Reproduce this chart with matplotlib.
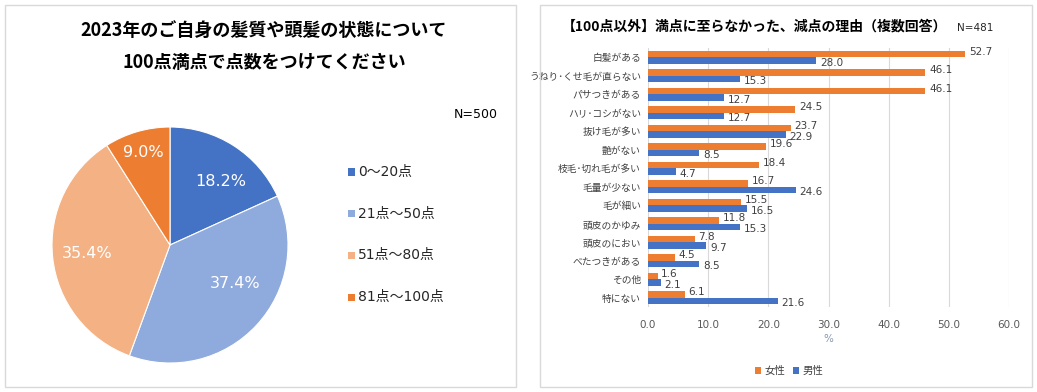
import matplotlib
matplotlib.use("Agg")
import matplotlib.pyplot as plt
from matplotlib.patches import Rectangle
import numpy as np

plt.rcParams['font.family'] = ['DejaVu Sans', 'Noto Sans CJK JP']

# ---- data ----
pie_labels = ['0～20点', '21点～50点', '51点～80点', '81点～100点']
pie_values = [18.2, 37.4, 35.4, 9.0]
pie_colors = ['#4472C4', '#8FAADC', '#F4B183', '#ED7D31']

categories = ['白髪がある', 'うねり･くせ毛が直らない', 'パサつきがある', 'ハリ･コシがない',
              '抜け毛が多い', '艶がない', '枝毛･切れ毛が多い', '毛量が少ない', '毛が細い',
              '頭皮のかゆみ', '頭皮のにおい', 'べたつきがある', 'その他', '特にない']
female = [52.7, 46.1, 46.1, 24.5, 23.7, 19.6, 18.4, 16.7, 15.5, 11.8, 7.8, 4.5, 1.6, 6.1]
male = [28.0, 15.3, 12.7, 12.7, 22.9, 8.5, 4.7, 24.6, 16.5, 15.3, 9.7, 8.5, 2.1, 21.6]
xticks = [0, 10, 20, 30, 40, 50, 60]

W, H = 1037, 392
fig = plt.figure(figsize=(W / 100, H / 100), dpi=100)
fig.patch.set_facecolor('white')

def fx(x): return x / W
def fy(y): return 1 - y / H

# panel borders
for (x0, y0, x1, y1) in [(5, 5, 516, 387), (540, 5, 1032, 387)]:
    fig.patches.append(Rectangle((fx(x0), fy(y1)), fx(x1 - x0), (y1 - y0) / H,
                                 transform=fig.transFigure, fill=False,
                                 edgecolor='#D9D9D9', linewidth=1.0))

JP = ['Noto Sans CJK JP', 'DejaVu Sans']

# ---- left: pie ----
fig.text(fx(264), fy(30), '2023年のご自身の髪質や頭髪の状態について', ha='center', va='center',
         fontsize=13, fontweight='bold', family=JP, color='#000000')
fig.text(fx(264), fy(63), '100点満点で点数をつけてください', ha='center', va='center',
         fontsize=13, fontweight='bold', family=JP, color='#000000')
fig.text(fx(476), fy(114), 'N=500', ha='center', va='center', fontsize=9, color='#000000')

cx, cy, r = 170, 245, 118
axp = fig.add_axes([fx(cx - r), fy(cy + r), 2 * r / W, 2 * r / H])
wedges, _ = axp.pie(pie_values, colors=pie_colors, startangle=90, counterclock=False,
                    wedgeprops=dict(edgecolor='white', linewidth=0.8))
axp.set_xlim(-1, 1); axp.set_ylim(-1, 1)
axp.set_aspect('equal')
dists = [0.69, 0.64, 0.71, 0.82]
shifts = [-6, 12, 0, 0]
for w, v, d, s in zip(wedges, pie_values, dists, shifts):
    ang = np.deg2rad((w.theta1 + w.theta2) / 2 + s)
    axp.text(d * np.cos(ang), d * np.sin(ang), f'{v:.1f}%', ha='center', va='center',
             fontsize=11.5, color='white')

for i, (lab, col) in enumerate(zip(pie_labels, pie_colors)):
    yy = 172 + i * 41.7
    fig.patches.append(Rectangle((fx(348), fy(yy + 3.5)), 7 / W, 7 / H,
                                 transform=fig.transFigure, facecolor=col, edgecolor='none'))
    fig.text(fx(358), fy(yy), lab, ha='left', va='center', fontsize=10, color='#262626')

# ---- right: bars ----
fig.text(fx(755), fy(26), '【100点以外】満点に至らなかった、減点の理由（複数回答）', ha='center',
         va='center', fontsize=10, fontweight='bold', family=JP, color='#000000')
fig.text(fx(975), fy(28), 'N=481', ha='center', va='center', fontsize=7.5, color='#262626')

axb = fig.add_axes([fx(648), fy(307), 361 / W, 259 / H])
y = np.arange(len(categories))
bh = 0.34
axb.barh(y - bh / 2, female, height=bh, color='#ED7D31', label='女性', zorder=3)
axb.barh(y + bh / 2, male, height=bh, color='#4472C4', label='男性', zorder=3)
axb.set_ylim(len(categories) - 0.5, -0.5)
axb.set_xlim(0, 60)
axb.set_xticks(xticks)
axb.set_xticklabels([f'{t:.1f}' for t in xticks], fontsize=7.5, color='#595959')
axb.set_yticks(y)
axb.set_yticklabels(categories, fontsize=7, family=JP, color='#404040')
axb.tick_params(length=0, pad=5)
axb.tick_params(axis='x', pad=9)
axb.grid(axis='x', color='#D9D9D9', linewidth=0.8, zorder=0)
for s in axb.spines.values():
    s.set_visible(False)
for i, (f, m) in enumerate(zip(female, male)):
    axb.text(f + 0.6, i - bh / 2 - 0.12, f'{f:.1f}', ha='left', va='center', fontsize=7.5,
             color='#404040', zorder=4)
    axb.text(m + 0.6, i + bh / 2 + 0.12, f'{m:.1f}', ha='left', va='center', fontsize=7.5,
             color='#404040', zorder=4)
axb.set_xlabel('%', fontsize=7.5, color='#8497B0', labelpad=3)

leg = axb.legend(loc='center', bbox_to_anchor=(fx(789), fy(371)), bbox_transform=fig.transFigure,
                 ncol=2, frameon=False, handlelength=0.6, handleheight=0.6, handletextpad=0.3,
                 columnspacing=0.8, prop={'family': JP, 'size': 7.5})
for t in leg.get_texts():
    t.set_color('#404040')

fig.savefig('out.png', dpi=100, facecolor='white')
